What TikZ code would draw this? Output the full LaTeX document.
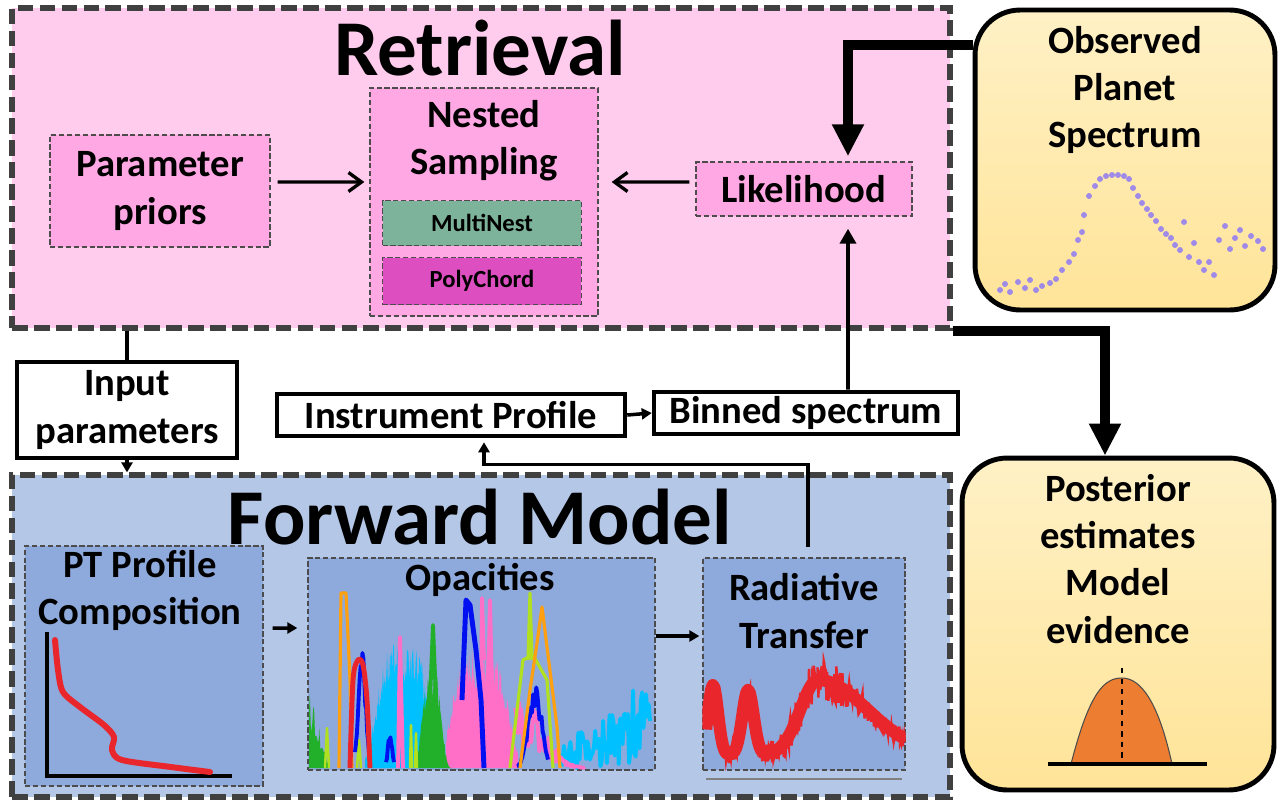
\documentclass[tikz,border=0pt]{standalone}
\usepackage{fontspec}
\setmainfont{Carlito}
\usetikzlibrary{arrows.meta}
\definecolor{retrbg}{HTML}{FFCCEE}
\definecolor{pinkmid}{HTML}{FFA8E4}
\definecolor{mngreen}{HTML}{7DB39A}
\definecolor{pcmagenta}{HTML}{DD4EC0}
\definecolor{fwdbg}{HTML}{B4C7E7}
\definecolor{bluemid}{HTML}{8EA9DB}
\definecolor{yeltop}{HTML}{FFF1C6}
\definecolor{yelbot}{HTML}{FFE498}
\definecolor{dotpurple}{HTML}{A08AE8}
\definecolor{bellorange}{HTML}{ED7D31}
\definecolor{specred}{HTML}{E8262B}
\definecolor{opgreen}{HTML}{22B02B}
\definecolor{oporange}{HTML}{FFA010}
\definecolor{opblue}{HTML}{0010F0}
\definecolor{opcyan}{HTML}{00C0FF}
\definecolor{oppink}{HTML}{FF6EC7}
\definecolor{opyellow}{HTML}{B0E020}
\tikzset{
  region/.style={draw=black!75,line width=3pt,dash pattern=on 9pt off 3.5pt,inner sep=0pt},
  inbox/.style={draw=black!70,line width=0.8pt,dash pattern=on 3pt off 1.5pt,inner sep=0pt},
  plainbox/.style={draw=black,line width=2.6pt,fill=white,inner sep=0pt},
  softbox/.style={draw=black,line width=2.8pt,rounded corners=0.9cm,top color=yeltop,bottom color=yelbot,inner sep=0pt},
  lbl/.style={font=\fontsize{22}{26.8}\selectfont\bfseries,align=center,inner sep=0pt},
  smalllbl/.style={font=\fontsize{14}{16}\selectfont\bfseries,align=center,inner sep=0pt},
  title/.style={font=\fontsize{45}{54}\selectfont\bfseries,inner sep=0pt},
  barbarr/.style={line width=1.9pt,-{Straight Barb[length=0.26cm,width=0.38cm]}},
  bigarr/.style={line width=5.6pt,-{Triangle[length=0.64cm,width=0.6cm]}},
  midarr/.style={line width=2.2pt,-{Triangle[length=0.3cm,width=0.32cm]}},
  smallarr/.style={line width=2pt,-{Triangle[length=0.2cm,width=0.22cm]}}
}
\begin{document}
\begin{tikzpicture}[x=0.02cm,y=-0.02cm,font=\bfseries,
  declare function={rtf(\x)=755-70*exp(-((\x-713)/7)^2)-65*exp(-((\x-748)/8)^2)-75*exp(-((\x-818)/((\x<818)?25:70))^2);}]
\useasboundingbox (0,0) rectangle (1278,802);
% retrieval part
\node[region,fill=retrbg,minimum width=18.76cm,minimum height=6.4cm] (retr) at (481,168) {};
\node[title] (retrtitle) at (480,48) {Retrieval};
\node[inbox,fill=pinkmid,minimum width=4.4cm,minimum height=2.24cm,lbl] (priors) at (160,191) {Parameter\\priors};
\node[inbox,fill=pinkmid,minimum width=4.56cm,minimum height=4.56cm] (nested) at (484,202) {};
\node[lbl] (nestedlbl) at (484,141) {Nested\\Sampling};
\node[inbox,fill=mngreen,minimum width=3.98cm,minimum height=0.9cm,smalllbl] (multinest) at (482,223) {MultiNest};
\node[inbox,fill=pcmagenta,minimum width=3.98cm,minimum height=0.94cm,smalllbl] (polychord) at (482,281) {PolyChord};
\node[inbox,fill=pinkmid,minimum width=4.32cm,minimum height=1.08cm,lbl] (likelihood) at (804,189) {Likelihood};
% forward model part
\node[region,fill=fwdbg,minimum width=18.76cm,minimum height=6.44cm] (fwd) at (481,636) {};
\node[title] (fwdtitle) at (480,517) {Forward Model};
\node[inbox,fill=bluemid,minimum width=4.76cm,minimum height=4.8cm] (pt) at (144,666) {};
\node[lbl] (ptlbl) at (140,590) {PT Profile\\Composition};
\node[inbox,fill=bluemid,minimum width=6.94cm,minimum height=4.24cm] (opac) at (481.5,664) {};
\node[lbl] (opaclbl) at (480,580) {Opacities};
\node[inbox,fill=bluemid,minimum width=4.04cm,minimum height=4.24cm] (radtr) at (804,664) {};
\node[lbl] (radtrlbl) at (804,611) {Radiative\\Transfer};
% side boxes
\node[softbox,minimum width=6cm,minimum height=6cm] (observed) at (1125,160) {};
\node[lbl] (observedlbl) at (1125,90) {Observed\\Planet\\Spectrum};
\node[softbox,minimum width=6.24cm,minimum height=6.64cm] (posterior) at (1118,624) {};
\node[lbl] (posteriorlbl) at (1118,559) {Posterior\\estimates\\Model\\evidence};
\node[plainbox,lbl,minimum width=4.4cm,minimum height=1.92cm] (input) at (127,410) {Input\\parameters};
\node[plainbox,lbl,minimum width=6.96cm,minimum height=0.84cm] (instr) at (451,415) {Instrument Profile};
\node[plainbox,lbl,minimum width=6.08cm,minimum height=0.84cm] (binned) at (806,413) {Binned spectrum};
% PT profile sketch
\draw[line width=1.8pt] (47,632) -- (47,776) -- (232,776);
\draw[specred,line width=3.4pt,line cap=round] plot[smooth] coordinates {(55,640) (58,670) (63,692) (80,707) (104,725) (114,737) (112,750) (122,760) (171,767) (210,772)};
% opacities
\pgfmathsetseed{42}
\begin{scope}[line width=2.2pt,line join=round]
\clip (opac.south west) rectangle (opac.north east);
\fill[opcyan] (365,768) -- plot[domain=365:440,samples=110] (\x,{768-125*exp(-((\x-403)/30)^4)*(0.65+0.35*rnd)}) -- (440,768) -- cycle;
\draw[opcyan] plot[domain=560:650,samples=70] (\x,{768-(20+75*(\x-560)/88)*rnd});
\fill[oppink] (446,768) -- plot[domain=446:518,samples=110] (\x,{768-120*exp(-((\x-480)/32)^4)*(0.65+0.35*rnd)}) -- (518,768) -- cycle;
\draw[oppink] plot[domain=515:585,samples=70] (\x,{768-70*exp(-((\x-522)/30)^2)*(0.3+0.7*rnd)});
\draw[oppink] (398,768) -- (400,637) -- (403,768) (481,700) -- (482,598) -- (484,660) (488,690) -- (490,600) -- (492,690);
\fill[opgreen] (416,768) -- plot[domain=416:452,samples=50] (\x,{768-95*exp(-((\x-432)/12)^4)*(0.6+0.4*rnd)}) -- (452,768) -- cycle;
\draw[opgreen] (430,700) -- (433,625) -- (436,700);
\fill[opgreen] (309,768) -- plot[domain=309:329,samples=24] (\x,{768-80*(1-(\x-309)/21)*(0.4+0.6*rnd)}) -- (329,768) -- cycle;
\draw[opyellow,line width=1.4pt] (325,768) -- (327,728) -- (329,768) (357,768) -- (359,740) -- (361,768) (410,768) -- (411,725) -- (412,768) (415,768) -- (416,733) -- (417,768);
\draw[oporange,line width=1.8pt] (339,768) -- (341,593) -- (346,593) -- (350,680) -- (352,768);
\draw[opblue] plot[domain=355:369,samples=16] (\x,{768-120*exp(-((\x-362)/5)^2)*(0.8+0.2*rnd)});
\draw[opblue] plot[domain=386:394,samples=10] (\x,{768-35*exp(-((\x-390)/3)^2)*(0.7+0.3*rnd)});
\draw[specred,line width=2.8pt] plot[smooth] coordinates {(350,768) (353,680) (358,660) (363,665) (367,700) (370,768)};
\draw[opblue,line width=2.8pt] (462,700) -- (466,600) -- (470,605) -- (476,650) -- (481,700) -- (484,768);
\draw[opblue] plot[domain=517:548,samples=30] (\x,{768-88*exp(-((\x-535)/9)^2)*(0.7+0.3*rnd)});
\draw[opyellow,line width=1.8pt] (510,768) -- (523,660) -- (533,655) -- (547,680) -- (553,768) (528,660) -- (530,593) -- (532,660);
\draw[oporange,line width=1.8pt] (520,768) -- (530,690) -- (537,643) -- (542,607) -- (547,647) -- (557,727) -- (560,768);
\end{scope}
% radiative transfer spectrum
\begin{scope}
\clip (radtr.south west) rectangle (radtr.north east);
\draw[specred,line width=7pt,line join=round] plot[domain=706:906,samples=120] (\x,{rtf(\x)});
\draw[specred,line width=1.4pt] plot[domain=706:906,samples=300] (\x,{rtf(\x)+(9+12*exp(-((\x-818)/40)^2))*(rnd-0.5)*2});
\end{scope}
\draw[gray,line width=0.8pt] (706,779) -- (902,779);
% observed spectrum dots
\foreach \dx/\dy in {1000/290,1005/284,1010/292,1018/282,1025/288,1030/280,1036/290,1042/286,1050/283,1056/279,1062/270,1069/262,1074/254,1078/240,1082/232,1084/215,1089/196,1095/186,1100/179,1106/176,1112/175,1118/175,1124/176,1129/179,1133/188,1138/196,1142/203,1147/209,1151/215,1156/221,1161/229,1166/234,1171/238,1175/245,1180/250,1184/222,1189/257,1194/243,1199/262,1204/270,1209/262,1214/275,1219/240,1225/226,1230/249,1235/238,1240/230,1245/246,1251/236,1258/241,1263/249}
  \fill[dotpurple] (\dx,\dy) circle[radius=1.7pt];
% posterior bell
\draw[fill=bellorange,draw=black!70,line width=0.6pt] (1071,764) .. controls (1090,690) and (1105,678) .. (1122,678) .. controls (1140,678) and (1158,700) .. (1172,764) -- cycle;
\draw[dashed,line width=0.6pt] (1122,668) -- (1122,764);
\draw[line width=2.5pt] (1048,764) -- (1207,764);
% connectors
\draw[barbarr] ([xshift=0.14cm,yshift=0.18cm]priors.east) -- ([xshift=-0.1cm,yshift=0.4cm]nested.west);
\draw[barbarr] ([xshift=-0.12cm,yshift=0.14cm]likelihood.west) -- ([xshift=0.26cm,yshift=0.4cm]nested.east);
\draw[bigarr] ([yshift=2.3cm]observed.west) -| ([xshift=0.88cm,yshift=0.1cm]likelihood.north);
\draw[bigarr] (retr.south east) -| ([xshift=-0.26cm]posterior.north);
\draw[midarr] ([xshift=0.84cm]binned.north) -- ([xshift=0.88cm,yshift=-0.24cm]likelihood.south);
\draw[line width=2pt] (retr.south -| input.north) -- (input.north);
\draw[smallarr] (input.south) -- (input.south |- fwd.north);
\draw[smallarr] (instr.east) -- (binned.west);
\draw[smallarr] ([xshift=0.08cm,yshift=0.2cm]radtr.north) |- ([xshift=0.66cm,yshift=-0.52cm]instr.south) -- ([xshift=0.66cm,yshift=-0.08cm]instr.south);
\draw[smallarr] ([xshift=0.18cm,yshift=0.76cm]pt.east) -- ([xshift=-0.2cm,yshift=0.72cm]opac.west);
\draw[smallarr] ([yshift=0.56cm]opac.east) -- ([xshift=-0.06cm,yshift=0.56cm]radtr.west);
\end{tikzpicture}
\end{document}
